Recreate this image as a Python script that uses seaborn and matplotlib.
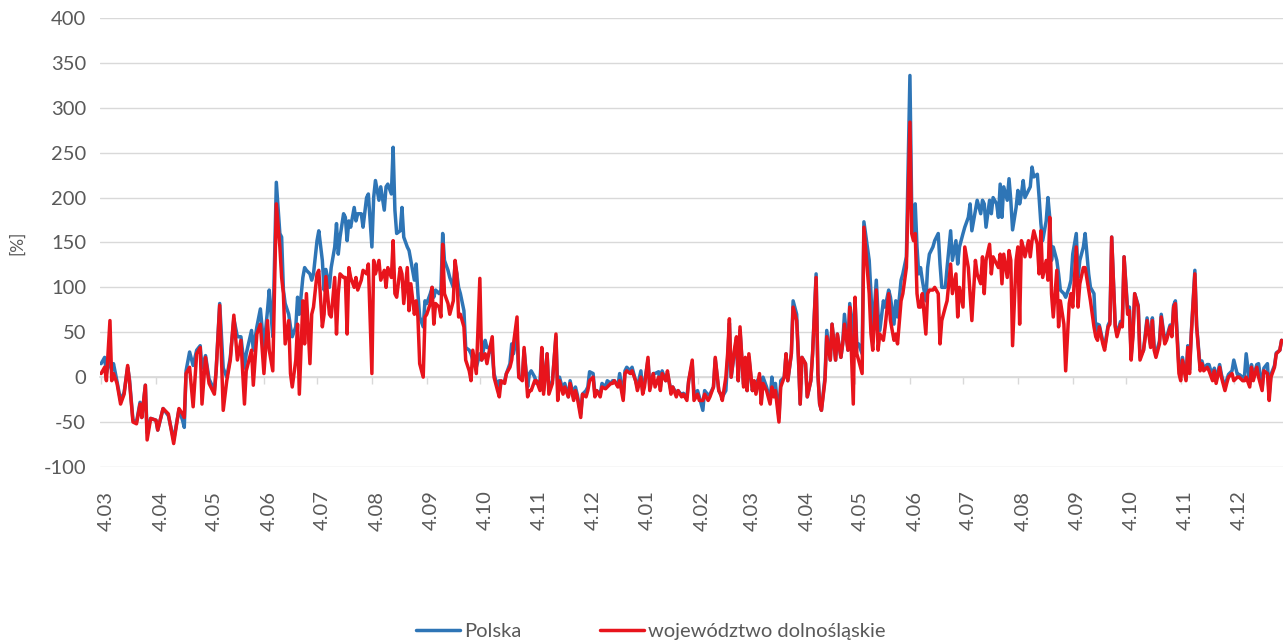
import matplotlib
matplotlib.use("Agg")
import matplotlib.pyplot as plt
import matplotlib.dates as mdates
import matplotlib.transforms as mtransforms
import pandas as pd
import seaborn as sns

# daily series: day offset from 4 March 2020, change in %
start = pd.Timestamp("2020-03-04")

days = [
    0, 2, 3, 5, 6, 7, 9, 11, 13, 15, 16, 18, 20, 22, 23, 25, 26, 28, 31, 32,
    35, 38, 41, 44, 46, 47, 48, 50, 52, 54, 56, 57, 59, 61, 64, 65, 67, 69, 71, 73,
    75, 77, 79, 81, 82, 85, 86, 88, 90, 92, 94, 95, 97,
    99, 101, 102, 103, 104, 106, 107, 108, 110, 111, 112, 114, 115, 116, 118, 119, 120, 122, 123, 125,
    126, 127, 129, 130, 132, 133, 134, 135, 137, 138, 139, 140, 141, 143, 144, 145, 147, 148, 150, 151,
    153, 154, 155, 157, 158, 160, 161, 162, 164,
    165, 166, 167, 169, 170, 171, 173, 174, 175, 177, 178, 179, 180, 182, 183, 184, 186, 187, 188, 189,
    191, 192, 193, 194, 196, 197, 199, 200, 201, 202, 203, 205, 206, 208, 209, 210, 212, 214, 215, 217,
    218, 219, 221, 222, 224, 225, 226, 228, 229, 231, 232, 233, 235, 236,
    238, 239, 241, 242, 243, 245, 246, 248, 249, 250, 252, 253, 255, 257, 258, 259, 261, 262, 264, 265,
    267, 268, 269, 271, 272, 274, 275, 276, 278, 279, 280, 282, 283, 285, 286, 288, 289, 290, 292, 293,
    295, 296, 297, 299, 300, 302, 303, 305, 306, 307, 309, 310, 312, 313, 315, 316, 317, 319, 320, 322,
    323, 325, 326, 328, 329, 331, 332, 334, 335, 337, 338,
    340, 341, 343, 344, 346, 347, 349, 350, 351, 353, 354, 355, 356, 358, 359, 360, 361, 363, 364, 365,
    366, 368, 369, 370, 372, 373, 374, 376, 378, 379, 380, 381, 383, 384, 386, 387, 388, 390, 391, 393,
    394, 395, 396, 398, 399, 401, 402, 404, 405, 406, 407, 409, 410, 412, 413, 415, 416, 418, 419, 420,
    422, 423, 425, 426, 427, 428, 430, 431,
    434, 435, 436, 438, 439, 440, 442, 443, 445, 446, 448, 449, 450, 452, 453, 455, 457, 458, 459,
    460, 461, 462, 463, 464, 466, 467, 468, 470, 471, 473, 474, 475, 477, 478, 480, 481, 483, 484, 485,
    487, 488, 490, 491, 492, 494, 495, 497, 498,
    499, 500, 502, 503, 504, 506, 507, 508, 509, 510, 512, 513, 514, 515, 517, 518, 519, 520, 521, 522,
    524, 525, 526, 527, 529, 530, 531, 532, 534, 535, 536, 537, 538, 540, 541, 542, 544, 545, 547, 548,
    549, 551, 552, 553, 555, 556, 558, 559, 561, 562, 563,
    564, 566, 567, 569, 570, 571, 573, 574, 576, 577, 578, 580, 581, 582, 583, 584, 586, 587, 589, 590,
    591, 593, 594, 595, 596, 598, 599, 601, 602, 604, 605, 606, 607, 609, 610, 611, 613, 614, 615, 616,
    618, 619, 621, 622, 623, 625, 626, 628, 629, 630, 632, 633, 635, 636, 637, 639, 640, 642, 643, 645,
    646, 647, 649, 650, 651, 653, 654, 656, 657, 659, 660, 661, 663, 664, 666, 667,
]

polska = [
    15, 22, 4, 20, 8, 15, -5, -26, -17, 11, -2, -48, -50, -28, -45, -9, -62, -46, -48, -59,
    -35, -43, -70, -36, -48, -56, 7, 28, 13, 30, 35, 10, 24, -2, -15, 8, 82, 10, 0, 22,
    65, 45, 45, 10, 26, 52, 30, 56, 76, 33, 74, 97, 45,
    217, 160, 156, 97, 82, 70, 56, 45, 56, 89, 70, 111, 122, 119, 115, 108, 115, 152, 163, 130,
    97, 120, 100, 122, 145, 171, 137, 156, 182, 178, 152, 174, 167, 189, 174, 182, 182, 167, 200, 204,
    145, 200, 219, 197, 212, 186, 212, 215, 204,
    256, 186, 160, 163, 189, 156, 145, 141, 130, 108, 126, 93, 67, 56, 85, 82, 93, 100, 89, 97,
    93, 97, 160, 130, 119, 111, 100, 126, 115, 100, 93, 74, 33, 30, 26, 19, 11, 26, 19, 41,
    33, 33, 26, 4, -11, -4, -7, -4, 4, 15, 37, 26, 48, 0,
    0, 30, -11, 4, 7, 0, -7, -4, 30, -15, 26, -15, -4, 45, -15, 0, -15, -7, -22, -4,
    -22, -11, -19, -41, -19, -15, -11, 6, 4, -19, -15, -19, -7, -11, -4, -7, -4, -4, -10, 4,
    -22, 7, 11, 7, 11, -4, -11, 7, -15, -7, 19, -11, 4, 4, 6, -11, 7, -4, 4, -15,
    -11, -18, -15, -20, -18, -22, -4, 15, -19, -15, -22,
    -37, -15, -20, -19, -11, 20, -15, -19, -22, -15, 20, 60, 0, 30, 40, -4, 52, -8, 20, -15,
    22, -15, -5, -7, 0, -26, 0, -11, -26, 0, -19, -7, -45, -4, 0, 26, -4, 26, 85, 70,
    22, -30, 22, 15, -22, -4, 26, 115, 4, -30, -37, 0, 52, 19, 59, 19, 48, 22, 37, 70,
    30, 82, 45, 85, 37, 37, 26, 173,
    130, 93, 48, 108, 70, 52, 85, 78, 97, 89, 59, 85, 67, 108, 115, 134, 336, 189, 160,
    193, 145, 115, 122, 108, 85, 122, 137, 145, 152, 160, 126, 100, 100, 122, 163, 130, 152, 126, 145,
    160, 167, 178, 193, 163, 186, 197, 182, 197,
    193, 167, 197, 182, 200, 193, 178, 215, 178, 212, 197, 221, 197, 164, 189, 208, 193, 204, 219, 200,
    208, 212, 234, 223, 226, 200, 171, 152, 174, 200, 178, 130, 145, 130, 115, 97, 93, 89, 100, 108,
    137, 160, 111, 130, 145, 160, 115, 100, 93, 52, 59,
    58, 40, 33, 58, 62, 156, 58, 48, 62, 60, 134, 76, 78, 24, 48, 93, 80, 22, 30, 48,
    66, 36, 66, 34, 26, 40, 70, 40, 44, 58, 48, 80, 85, 11, 7, 22, -2, 35, 8, 50,
    119, 58, 10, 18, 10, 14, 14, 0, 10, -3, 14, 3, -12, -3, 3, 7, 19, 3, 3, 0,
    0, 26, -8, 14, 0, 14, 15, -12, 10, 15, -20, 3, 13, 27, 30, 41,
]

dolnoslaskie = [
    4, 11, -4, 63, -4, 4, -7, -30, -19, 13, -4, -50, -52, -30, -45, -9, -70, -46, -48, -59,
    -35, -41, -74, -35, -41, -45, 4, 11, -33, 26, 33, -30, 22, -7, -19, 7, 80, -37, -4, 19,
    69, 19, 41, -30, 7, 30, -9, 48, 59, 4, 63, 30, 7,
    193, 145, 111, 93, 37, 63, 4, -11, 19, 59, -19, 85, 37, 93, 15, 70, 78, 115, 119, 56,
    70, 112, 70, 67, 111, 48, 93, 115, 111, 111, 48, 122, 111, 100, 111, 97, 108, 119, 115, 126,
    4, 130, 115, 130, 108, 119, 100, 122, 111,
    152, 93, 89, 122, 115, 82, 122, 74, 104, 70, 85, 67, 15, 0, 67, 70, 82, 100, 59, 82,
    78, 67, 148, 93, 82, 70, 85, 130, 115, 67, 70, 56, 19, 7, -4, 30, 4, 110, 19, 26,
    15, 26, 45, 0, -15, -22, -4, -7, 4, 11, 19, 37, 67, 0,
    -4, 33, -22, -15, -15, -4, -4, -15, 33, -19, 26, -19, -7, 48, -26, -4, -19, -11, -22, -7,
    -26, -15, -22, -45, -19, -22, -15, -4, 0, -22, -15, -22, -11, -13, -11, -7, -7, -4, -11, -4,
    -26, 4, 7, 4, 7, -4, -15, 0, -19, -11, 22, -15, 4, -11, 0, -15, 4, -4, 7, -19,
    -11, -22, -15, -22, -19, -26, -4, 19, -26, -19, -26,
    -26, -19, -26, -22, -11, 22, -15, -19, -26, 0, 26, 65, 0, 33, 45, -4, 56, -11, 22, -15,
    26, -15, -4, -19, 4, -30, -7, -15, -30, -11, -22, -15, -50, -11, 0, 26, -4, 26, 78, 63,
    22, -30, 22, 15, -22, -4, 26, 111, 4, -30, -37, -4, 45, 19, 59, 19, 48, 22, 37, 59,
    30, 78, -30, 89, 26, 19, 4, 167,
    93, 48, 30, 97, 30, 48, 41, 56, 93, 63, 41, 48, 37, 85, 93, 122, 284, 160, 152,
    160, 93, 78, 78, 93, 48, 93, 97, 97, 100, 93, 37, 63, 78, 85, 126, 93, 115, 67, 100,
    78, 145, 122, 93, 63, 130, 115, 104, 134,
    93, 130, 148, 115, 134, 126, 122, 137, 104, 137, 111, 141, 130, 35, 130, 145, 59, 152, 145, 134,
    152, 134, 152, 163, 148, 115, 163, 111, 130, 108, 178, 93, 67, 119, 56, 85, 59, 7, 82, 93,
    78, 145, 78, 104, 122, 122, 97, 85, 56, 45, 41,
    56, 37, 30, 56, 59, 156, 56, 45, 59, 56, 134, 70, 74, 19, 45, 93, 78, 19, 30, 45,
    63, 33, 63, 30, 22, 37, 67, 37, 41, 56, 45, 78, 82, 4, -4, 19, -4, 33, 4, 48,
    115, 56, 7, 15, 7, 11, 7, -4, 7, -7, 11, 0, -15, -7, 0, 4, -4, 0, 0, -4,
    -4, 0, -11, 11, -4, 11, 0, -15, 7, 4, -26, 0, 11, 26, 30, 41,
]

series_names = ["Polska", "województwo dolnośląskie"]
colors = ["#2e75b6", "#e8141c"]
yticks = list(range(-100, 401, 50))

# ticks on the 4th of each month
tick_dates = pd.date_range("2020-03-01", "2021-12-01", freq="MS") + pd.Timedelta(days=3)
tick_labels = [f"{d.day}.{d.month:02d}" for d in tick_dates]

df = pd.DataFrame({
    "data": start + pd.to_timedelta(days, unit="D"),
    series_names[0]: polska,
    series_names[1]: dolnoslaskie,
})
long_df = df.melt(id_vars="data", var_name="seria", value_name="zmiana")

sns.set_theme(style="white")
plt.rcParams["font.family"] = ["Lato", "DejaVu Sans"]
plt.rcParams["axes.unicode_minus"] = False
text_color = "#595959"
grid_color = "#d9d9d9"
lw = 2.5

fig = plt.figure(figsize=(12.83, 6.44), dpi=100)
ax = fig.add_axes([0.078, 0.275, 0.922, 0.697])

sns.lineplot(data=long_df, x="data", y="zmiana", hue="seria",
             palette=dict(zip(series_names, colors)), linewidth=lw,
             ax=ax, legend=False)

ax.set_ylim(-100, 400)
ax.set_yticks(yticks)
ax.yaxis.grid(True, color=grid_color, linewidth=1)
ax.xaxis.grid(False)
for s in ax.spines.values():
    s.set_visible(False)
ax.tick_params(axis="y", length=0, pad=10, labelsize=14.5, labelcolor=text_color)

x0 = mdates.date2num(start - pd.Timedelta(hours=14))
x1 = mdates.date2num(start + pd.Timedelta(days=667.8))
ax.set_xlim(x0, x1)
tick_nums = mdates.date2num(tick_dates)
ax.set_xticks(tick_nums)
ax.set_xticklabels(tick_labels, rotation=90)
ax.tick_params(axis="x", length=0, pad=17, labelsize=14.5, labelcolor=text_color)
shift = mtransforms.ScaledTranslation(5 / 100, 0, fig.dpi_scale_trans)
for lab in ax.get_xticklabels():
    lab.set_transform(lab.get_transform() + shift)

# category axis line with small ticks sits at 0
zero_axis = ax.secondary_xaxis(0.2)
zero_axis.set_xticks(tick_nums)
zero_axis.tick_params(axis="x", length=5, width=1, color=grid_color, labelbottom=False)
zero_axis.spines["bottom"].set_color(grid_color)

ax.set_xlabel("")
ax.set_ylabel("[%]", fontsize=12.5, color=text_color)
ax.yaxis.set_label_coords(-0.063, 0.5)

handles = [plt.Line2D([], [], color=c, linewidth=lw) for c in colors]
fig.legend(handles, series_names, loc="center", bbox_to_anchor=(0.507, 0.02),
           ncol=2, frameon=False, fontsize=14.5, labelcolor=text_color,
           handlelength=2.2, handletextpad=0.2, columnspacing=3.9)

fig.savefig("out.png", dpi=100)
